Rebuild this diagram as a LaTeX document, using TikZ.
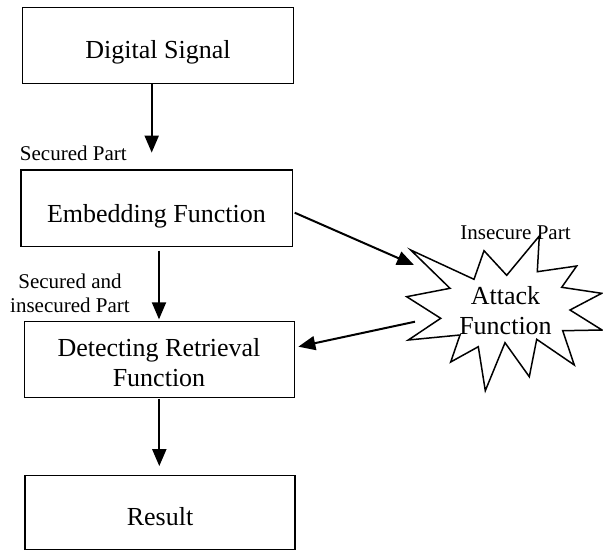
\documentclass[tikz,border=0pt]{standalone}
\usepackage{fontspec}
\setmainfont{Liberation Serif}
\usetikzlibrary{arrows.meta,calc}
\begin{document}
\begin{tikzpicture}[x=1pt,y=-1pt,
  stagebox/.style={draw,line width=1.3pt,rectangle,inner sep=0pt,minimum height=76pt},
  maintext/.style={font=\fontsize{26}{30}\selectfont,inner sep=0pt,anchor=base,align=center},
  smalltext/.style={font=\fontsize{21}{23.5}\selectfont,inner sep=0pt,anchor=base,align=center},
  flow/.style={line width=2pt,-{Triangle[length=17pt,width=14pt]}},
  burst/.style={draw,line width=1.5pt,line join=miter,fill=white}]
  \useasboundingbox (0,0) rectangle (603,550);

  % stage boxes
  \node[stagebox,minimum width=270.6pt] (sig) at (158,45.3) {};
  \node[stagebox,minimum width=271.3pt,minimum height=76.7pt] (emb) at (156.7,208.3) {};
  \node[stagebox,minimum width=270pt,minimum height=75.8pt] (det) at (159.3,359.6) {};
  \node[stagebox,minimum width=270pt,minimum height=73.5pt] (res) at (160,512.5) {};

  % box captions (multi-line captions sit on the baseline of their last line)
  \node[maintext] (sigT) at (158,58.7) {Digital Signal};
  \node[maintext] (embT) at (156.5,222.3) {Embedding Function};
  \node[maintext] (detT) at (159,386) {Detecting Retrieval\\Function};
  \node[maintext] (resT) at (160,525) {Result};

  % attack star
  \draw[burst] (410.7,250) -- (474,279.3) -- (484,250.7) -- (506.7,275.3)
    -- (539.3,236) -- (537.3,271.7) -- (576.7,266) -- (561.7,287.3)
    -- (601.7,293.3) -- (570,310) -- (602,330) -- (562.7,330.7)
    -- (574.3,365) -- (536.7,339.3) -- (529.3,376.7) -- (505,342.7)
    -- (485.3,390.7) -- (478.3,346.7) -- (450.7,362) -- (460,335)
    -- (408.3,340) -- (440.7,318.3) -- (406.7,296.7) -- (450,288.3) -- cycle;
  \node[maintext] (atk) at (505.5,334) {Attack\\Function};
  \coordinate (atkIn) at (414,265);
  \coordinate (atkOut) at (415,321.7);

  % edge labels
  \node[smalltext] (lblSec) at (73.3,160) {Secured Part};
  \node[smalltext] (lblMix) at (70,312.3) {Secured and\\insecured Part};
  \node[smalltext] (lblIns) at (515.5,239.3) {Insecure Part};

  % connectors
  \draw[flow] ($(sig.south)+(-6.3,0)$) -- ($(emb.north)+(-5,-16.7)$);
  \draw[flow] ($(emb.south)+(2.3,3.3)$) -- ($(det.north)+(-0.3,-1.7)$);
  \draw[flow] ($(det.south)+(0,0.5)$) -- ($(res.north)+(-0.7,-9)$);
  \draw[flow] ($(emb.east)+(1.7,4.4)$) -- (atkIn);
  \draw[flow] (atkOut) -- ($(det.east)+(3.4,-12.9)$);
\end{tikzpicture}
\end{document}
